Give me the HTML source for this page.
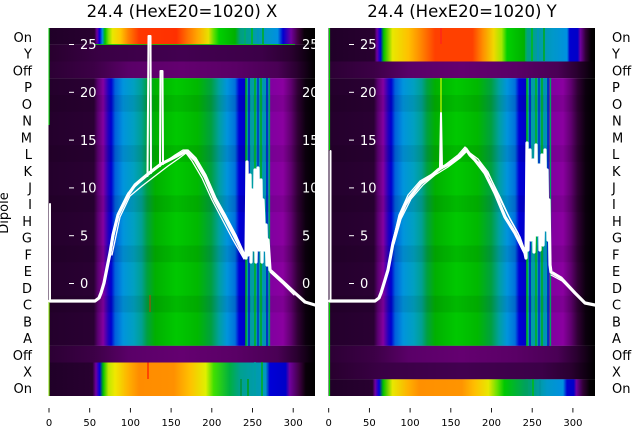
<!DOCTYPE html>
<html><head><meta charset="utf-8"><style>
html,body{margin:0;padding:0;background:#fff;}
svg{display:block;font-family:"DejaVu Sans","Liberation Sans",sans-serif;}
</style></head><body>
<svg width="640" height="440" viewBox="0 0 640 440" xmlns="http://www.w3.org/2000/svg">
<defs>
<linearGradient id="gMain" x1="0" y1="0" x2="1" y2="0">
<stop offset="0" stop-color="#24002c"/><stop offset="0.170" stop-color="#2a0033"/>
<stop offset="0.185" stop-color="#5a0070"/><stop offset="0.205" stop-color="#8400a0"/>
<stop offset="0.225" stop-color="#2000c0"/><stop offset="0.235" stop-color="#0000d0"/>
<stop offset="0.250" stop-color="#0060dd"/><stop offset="0.280" stop-color="#0094dd"/>
<stop offset="0.320" stop-color="#00a0c0"/><stop offset="0.350" stop-color="#00a090"/>
<stop offset="0.370" stop-color="#00a040"/><stop offset="0.400" stop-color="#00b000"/>
<stop offset="0.480" stop-color="#00c800"/><stop offset="0.560" stop-color="#00b800"/>
<stop offset="0.610" stop-color="#00a040"/><stop offset="0.640" stop-color="#00a0a0"/>
<stop offset="0.670" stop-color="#0094dd"/><stop offset="0.700" stop-color="#0070dd"/>
<stop offset="0.715" stop-color="#0000d8"/><stop offset="0.740" stop-color="#0000c8"/>
<stop offset="0.745" stop-color="#0099aa"/><stop offset="0.825" stop-color="#0099aa"/>
<stop offset="0.830" stop-color="#8000a0"/><stop offset="0.880" stop-color="#8a00a0"/>
<stop offset="0.910" stop-color="#600070"/><stop offset="0.935" stop-color="#300035"/>
<stop offset="0.965" stop-color="#0c000e"/><stop offset="1" stop-color="#000"/>
</linearGradient>
<linearGradient id="gLT" x1="0" y1="0" x2="1" y2="0">
<stop offset="0" stop-color="#200028"/><stop offset="0.172" stop-color="#280030"/>
<stop offset="0.182" stop-color="#7000a0"/><stop offset="0.192" stop-color="#0000dd"/>
<stop offset="0.202" stop-color="#0090dd"/><stop offset="0.212" stop-color="#00c000"/>
<stop offset="0.225" stop-color="#80e000"/><stop offset="0.240" stop-color="#e8e800"/>
<stop offset="0.270" stop-color="#ffc800"/><stop offset="0.300" stop-color="#ff8000"/>
<stop offset="0.340" stop-color="#ff3800"/><stop offset="0.480" stop-color="#ff3000"/>
<stop offset="0.520" stop-color="#ff7000"/><stop offset="0.560" stop-color="#ffa800"/>
<stop offset="0.600" stop-color="#e8e000"/><stop offset="0.620" stop-color="#60e000"/>
<stop offset="0.640" stop-color="#00d000"/><stop offset="0.700" stop-color="#00b000"/>
<stop offset="0.720" stop-color="#00a080"/><stop offset="0.820" stop-color="#0098c8"/>
<stop offset="0.860" stop-color="#0090e0"/><stop offset="0.880" stop-color="#0000d0"/>
<stop offset="0.910" stop-color="#7000a0"/><stop offset="0.935" stop-color="#400040"/>
<stop offset="0.960" stop-color="#0a000a"/><stop offset="1" stop-color="#000"/>
</linearGradient>
<linearGradient id="gLB" x1="0" y1="0" x2="1" y2="0">
<stop offset="0" stop-color="#200028"/><stop offset="0.165" stop-color="#280030"/>
<stop offset="0.178" stop-color="#7000a0"/><stop offset="0.192" stop-color="#0000dd"/>
<stop offset="0.205" stop-color="#00c000"/><stop offset="0.225" stop-color="#c0e800"/>
<stop offset="0.250" stop-color="#f0e800"/><stop offset="0.300" stop-color="#ffb000"/>
<stop offset="0.340" stop-color="#ff8c00"/><stop offset="0.470" stop-color="#ff9000"/>
<stop offset="0.530" stop-color="#ffc000"/><stop offset="0.590" stop-color="#e0f000"/>
<stop offset="0.620" stop-color="#40e000"/><stop offset="0.680" stop-color="#00b040"/>
<stop offset="0.720" stop-color="#00a090"/><stop offset="0.815" stop-color="#0098c0"/>
<stop offset="0.830" stop-color="#0000d8"/><stop offset="0.890" stop-color="#0000c8"/>
<stop offset="0.905" stop-color="#7000a0"/><stop offset="0.940" stop-color="#400045"/>
<stop offset="0.965" stop-color="#0a000a"/><stop offset="1" stop-color="#000"/>
</linearGradient>
<linearGradient id="gRT" x1="0" y1="0" x2="1" y2="0">
<stop offset="0" stop-color="#200028"/><stop offset="0.172" stop-color="#280030"/>
<stop offset="0.182" stop-color="#7000a0"/><stop offset="0.195" stop-color="#0000dd"/>
<stop offset="0.207" stop-color="#00c000"/><stop offset="0.240" stop-color="#e8e800"/>
<stop offset="0.300" stop-color="#ffc000"/><stop offset="0.340" stop-color="#ff9000"/>
<stop offset="0.400" stop-color="#ff4000"/><stop offset="0.540" stop-color="#ff4000"/>
<stop offset="0.580" stop-color="#ff9000"/><stop offset="0.620" stop-color="#f0d800"/>
<stop offset="0.650" stop-color="#a0e800"/><stop offset="0.670" stop-color="#00d000"/>
<stop offset="0.735" stop-color="#00b000"/><stop offset="0.745" stop-color="#00a080"/>
<stop offset="0.840" stop-color="#0098c8"/><stop offset="0.895" stop-color="#0090e0"/>
<stop offset="0.905" stop-color="#0000d0"/><stop offset="0.935" stop-color="#0000c8"/>
<stop offset="0.945" stop-color="#7000a0"/><stop offset="0.965" stop-color="#300035"/>
<stop offset="0.985" stop-color="#050005"/><stop offset="1" stop-color="#000"/>
</linearGradient>
<linearGradient id="gRB" x1="0" y1="0" x2="1" y2="0">
<stop offset="0" stop-color="#200028"/><stop offset="0.165" stop-color="#280030"/>
<stop offset="0.175" stop-color="#7000a0"/><stop offset="0.190" stop-color="#0000dd"/>
<stop offset="0.205" stop-color="#00c000"/><stop offset="0.240" stop-color="#e8e800"/>
<stop offset="0.300" stop-color="#ffb000"/><stop offset="0.340" stop-color="#ff9000"/>
<stop offset="0.500" stop-color="#ff9400"/><stop offset="0.550" stop-color="#ffc000"/>
<stop offset="0.600" stop-color="#e8e800"/><stop offset="0.635" stop-color="#60e000"/>
<stop offset="0.660" stop-color="#00c800"/><stop offset="0.740" stop-color="#00a060"/>
<stop offset="0.820" stop-color="#0098c8"/><stop offset="0.880" stop-color="#0090e0"/>
<stop offset="0.895" stop-color="#0000d0"/><stop offset="0.920" stop-color="#0000c8"/>
<stop offset="0.930" stop-color="#7000a0"/><stop offset="0.955" stop-color="#300035"/>
<stop offset="0.980" stop-color="#050005"/><stop offset="1" stop-color="#000"/>
</linearGradient>
<linearGradient id="gOff" x1="0" y1="0" x2="1" y2="0">
<stop offset="0" stop-color="#2c0034"/><stop offset="0.17" stop-color="#3c0046"/>
<stop offset="0.30" stop-color="#5a0068"/><stop offset="0.50" stop-color="#640070"/>
<stop offset="0.70" stop-color="#5a0066"/><stop offset="0.86" stop-color="#4a0055"/>
<stop offset="0.93" stop-color="#2a0030"/><stop offset="1" stop-color="#000"/>
</linearGradient>
<linearGradient id="gDk" x1="0" y1="0" x2="1" y2="0">
<stop offset="0" stop-color="#28002e"/><stop offset="0.2" stop-color="#3a0045"/>
<stop offset="0.5" stop-color="#420050"/><stop offset="0.8" stop-color="#3c0048"/>
<stop offset="0.91" stop-color="#2a0030"/><stop offset="1" stop-color="#000"/>
</linearGradient>
<clipPath id="cL"><rect x="48.5" y="28" width="266.5" height="368"/></clipPath>
<clipPath id="cR"><rect x="328.5" y="28" width="266.5" height="368"/></clipPath>
</defs>

<text x="182" y="17" font-size="16.5" text-anchor="middle" fill="#000">24.4 (HexE20=1020) X</text>
<text x="462" y="17" font-size="16.5" text-anchor="middle" fill="#000">24.4 (HexE20=1020) Y</text>

<!-- LEFT PANEL -->
<g clip-path="url(#cL)">
<rect x="48.5" y="28" width="266.5" height="16.8" fill="url(#gLT)"/>
<rect x="48.5" y="44.7" width="266.5" height="16.9" fill="url(#gDk)"/>
<rect x="48.5" y="61.5" width="266.5" height="16.8" fill="url(#gOff)"/>
<rect x="48.5" y="78.2" width="266.5" height="267.7" fill="url(#gMain)"/>
<rect x="48.5" y="345.8" width="266.5" height="16.8" fill="url(#gOff)"/>
<rect x="48.5" y="362.5" width="266.5" height="33.5" fill="url(#gLB)"/>
<g fill="#000" opacity="0.07">
<rect x="48.5" y="95" width="266.5" height="16.7"/><rect x="48.5" y="145.2" width="266.5" height="16.7"/>
<rect x="48.5" y="195.4" width="266.5" height="16.7"/><rect x="48.5" y="245.5" width="266.5" height="16.7"/>
<rect x="48.5" y="295.7" width="266.5" height="16.7"/>
</g>
<g stroke-width="1.3">
<line x1="246" y1="78" x2="246" y2="346" stroke="#00c000"/><line x1="249" y1="78" x2="249" y2="346" stroke="#0000d0"/>
<line x1="252" y1="78" x2="252" y2="346" stroke="#00a0a0"/><line x1="255" y1="78" x2="255" y2="346" stroke="#00b800"/>
<line x1="258" y1="78" x2="258" y2="346" stroke="#0020d0"/><line x1="261" y1="78" x2="261" y2="346" stroke="#00b000"/>
<line x1="264" y1="78" x2="264" y2="346" stroke="#0090c0"/><line x1="267" y1="78" x2="267" y2="346" stroke="#0000d0"/>
<line x1="269.5" y1="78" x2="269.5" y2="346" stroke="#00a060"/>
<line x1="245" y1="28" x2="245" y2="44" stroke="#00b060"/><line x1="252" y1="28" x2="252" y2="44" stroke="#00c000"/>
<line x1="258" y1="28" x2="258" y2="44" stroke="#0090c0"/><line x1="263" y1="28" x2="263" y2="44" stroke="#00b000"/>
<line x1="241" y1="379" x2="241" y2="396" stroke="#009030"/><line x1="248" y1="379" x2="248" y2="396" stroke="#00a000"/>
<line x1="255" y1="362" x2="255" y2="396" stroke="#00a0a0"/><line x1="262" y1="362" x2="262" y2="396" stroke="#00b000"/>
</g>
<line x1="148" y1="362.5" x2="148" y2="379" stroke="#ff0000" stroke-width="1"/>
<line x1="150" y1="295" x2="150" y2="312" stroke="#c04000" stroke-width="1"/>
<line x1="49" y1="28" x2="49" y2="125" stroke="#00d000" stroke-width="1.2"/>
<line x1="49" y1="302" x2="49" y2="396" stroke="#80e000" stroke-width="1.2"/>
<line x1="95" y1="44.5" x2="295" y2="44.5" stroke="#00d000" stroke-width="0.8"/>

<g fill="#fff" font-size="13">
<g stroke="#fff" stroke-width="1">
<line x1="69" y1="44.5" x2="74" y2="44.5"/><line x1="69" y1="92.3" x2="74" y2="92.3"/>
<line x1="69" y1="140.1" x2="74" y2="140.1"/><line x1="69" y1="187.9" x2="74" y2="187.9"/>
<line x1="69" y1="235.7" x2="74" y2="235.7"/><line x1="69" y1="283.5" x2="74" y2="283.5"/>
</g>
<text x="80" y="49.2">25</text><text x="80" y="97">20</text><text x="80" y="144.8">15</text>
<text x="80" y="192.6">10</text><text x="80" y="240.4">5</text><text x="80" y="288.2">0</text>
<text x="302" y="49.2">25</text><text x="302" y="97">20</text><text x="302" y="144.8">15</text>
<text x="302" y="192.6">10</text><text x="302" y="240.4">5</text><text x="302" y="288.2">0</text>
</g>

<g fill="none" stroke="#fff" stroke-linejoin="round" stroke-linecap="round">
<line x1="50" y1="204" x2="50" y2="301" stroke-width="2"/>
<polyline stroke-width="3.2" points="50,301 95,301 99,298 101,293 104,283 106,273 110,253 113,235 118,215 123,205 128,195 135,185 148,174 161,164 175,157 186,151 195,160 205,177 215,200 225,218 235,237 245,257 246,258 247,162 248,255 250,175 251,262 252,190 254,250 255,170 256,262 258,168 259,250 261,180 262,262 263,200 265,250 266,225 267,265 268,240 270,270 281,280 295,293 305,302 315,305"/>
<polyline stroke-width="1.3" points="111,251 118,213 128,193 140,182 152,172 165,162 175,155 183,150 188,150 196,158 206,175 216,198 226,216 236,235 245,255"/>
<polyline stroke-width="1.3" points="112,255 120,217 130,196 142,186 155,176 168,166 178,159 186,153 192,161 202,178 212,200 222,219 232,238 244,259"/>
<polyline stroke-width="1.2" points="270,272 282,283 294,295"/>
<polyline stroke-width="2" points="147.5,176 148.5,36 150.5,36 151,173"/>
<polyline stroke-width="2" points="160,166 160.5,71 162.5,71 163,164"/>
</g>
</g>

<!-- RIGHT PANEL -->
<g clip-path="url(#cR)">
<rect x="328.5" y="28" width="266.5" height="33.6" fill="url(#gRT)"/>
<rect x="328.5" y="61.5" width="266.5" height="16.8" fill="url(#gOff)"/>
<rect x="328.5" y="78.2" width="266.5" height="267.7" fill="url(#gMain)"/>
<rect x="328.5" y="345.8" width="266.5" height="16.8" fill="url(#gOff)"/>
<rect x="328.5" y="362.5" width="266.5" height="16.9" fill="url(#gDk)"/>
<rect x="328.5" y="379.3" width="266.5" height="16.7" fill="url(#gRB)"/>
<g fill="#000" opacity="0.07">
<rect x="328.5" y="95" width="266.5" height="16.7"/><rect x="328.5" y="145.2" width="266.5" height="16.7"/>
<rect x="328.5" y="195.4" width="266.5" height="16.7"/><rect x="328.5" y="245.5" width="266.5" height="16.7"/>
<rect x="328.5" y="295.7" width="266.5" height="16.7"/>
</g>
<g stroke-width="1.3">
<line x1="527" y1="78" x2="527" y2="346" stroke="#00c000"/><line x1="530" y1="78" x2="530" y2="346" stroke="#0000d0"/>
<line x1="533" y1="78" x2="533" y2="346" stroke="#00a0a0"/><line x1="536" y1="78" x2="536" y2="346" stroke="#00b800"/>
<line x1="539" y1="78" x2="539" y2="346" stroke="#0020d0"/><line x1="542" y1="78" x2="542" y2="346" stroke="#00b000"/>
<line x1="545" y1="78" x2="545" y2="346" stroke="#0090c0"/><line x1="548" y1="78" x2="548" y2="346" stroke="#0000d0"/>
<line x1="550.5" y1="78" x2="550.5" y2="346" stroke="#00a060"/>
<line x1="526" y1="28" x2="526" y2="61" stroke="#00b060"/><line x1="532" y1="28" x2="532" y2="61" stroke="#00c000"/>
<line x1="538" y1="28" x2="538" y2="61" stroke="#0090c0"/><line x1="544" y1="28" x2="544" y2="61" stroke="#00b000"/>
<line x1="527" y1="379" x2="527" y2="396" stroke="#00a060"/><line x1="533" y1="379" x2="533" y2="396" stroke="#00c000"/>
<line x1="540" y1="379" x2="540" y2="396" stroke="#0090a0"/>
</g>
<line x1="441" y1="28" x2="441" y2="44" stroke="#ff2020" stroke-width="1.2"/>
<line x1="441" y1="78" x2="441" y2="113" stroke="#d0ff00" stroke-width="1.2"/>
<line x1="329.5" y1="28" x2="329.5" y2="150" stroke="#00d000" stroke-width="1.2"/>
<line x1="329.5" y1="300" x2="329.5" y2="396" stroke="#00d000" stroke-width="1.2"/>

<g fill="#fff" font-size="13">
<g stroke="#fff" stroke-width="1">
<line x1="349" y1="44.5" x2="354" y2="44.5"/><line x1="349" y1="92.3" x2="354" y2="92.3"/>
<line x1="349" y1="140.1" x2="354" y2="140.1"/><line x1="349" y1="187.9" x2="354" y2="187.9"/>
<line x1="349" y1="235.7" x2="354" y2="235.7"/><line x1="349" y1="283.5" x2="354" y2="283.5"/>
</g>
<text x="360" y="49.2">25</text><text x="360" y="97">20</text><text x="360" y="144.8">15</text>
<text x="360" y="192.6">10</text><text x="360" y="240.4">5</text><text x="360" y="288.2">0</text>
</g>

<g fill="none" stroke="#fff" stroke-linejoin="round" stroke-linecap="round">
<line x1="330.5" y1="151" x2="330.5" y2="301" stroke-width="2"/>
<polyline stroke-width="3.2" points="330,301 375,301 379,298 381,293 385,280 388,270 393,243 400,217 405,205 410,197 421,183 430,177 438,170 441,168 451,163 460,156 466,149 470,155 475,160 485,173 495,193 505,217 515,233 525,253 526,258 527,143 528,250 530,150 531,240 533,160 534,252 536,145 537,235 539,165 540,250 542,155 543,245 545,150 546,230 547,170 548,240 549,200 550,265 551,272 561,278 575,293 585,303 595,305"/>
<polyline stroke-width="1.3" points="392,245 399,215 408,195 420,181 432,174 445,165 458,155 465,147 470,153 478,159 488,172 498,195 508,215 518,233 525,251"/>
<polyline stroke-width="1.3" points="394,244 401,219 411,199 423,185 435,175 448,167 460,158 467,151 472,158 480,163 490,177 500,197 510,219 520,237 526,254"/>
<polyline stroke-width="1.2" points="551,275 562,281 576,295"/>
<polyline stroke-width="2" points="440,168 441,113 442,168"/>
</g>
</g>

<g font-size="13" fill="#000">
<g text-anchor="end">
<text x="32" y="42">On</text><text x="32" y="58.7">Y</text><text x="32" y="75.4">Off</text>
<text x="32" y="92.1">P</text><text x="32" y="108.9">O</text><text x="32" y="125.6">N</text>
<text x="32" y="142.3">M</text><text x="32" y="159.1">L</text><text x="32" y="175.8">K</text>
<text x="32" y="192.5">J</text><text x="32" y="209.2">I</text><text x="32" y="226">H</text>
<text x="32" y="242.7">G</text><text x="32" y="259.4">F</text><text x="32" y="276.1">E</text>
<text x="32" y="292.9">D</text><text x="32" y="309.6">C</text><text x="32" y="326.3">B</text>
<text x="32" y="343.1">A</text><text x="32" y="359.8">Off</text><text x="32" y="376.5">X</text>
<text x="32" y="393.2">On</text>
</g>
<g text-anchor="start">
<text x="612" y="42">On</text><text x="612" y="58.7">Y</text><text x="612" y="75.4">Off</text>
<text x="612" y="92.1">P</text><text x="612" y="108.9">O</text><text x="612" y="125.6">N</text>
<text x="612" y="142.3">M</text><text x="612" y="159.1">L</text><text x="612" y="175.8">K</text>
<text x="612" y="192.5">J</text><text x="612" y="209.2">I</text><text x="612" y="226">H</text>
<text x="612" y="242.7">G</text><text x="612" y="259.4">F</text><text x="612" y="276.1">E</text>
<text x="612" y="292.9">D</text><text x="612" y="309.6">C</text><text x="612" y="326.3">B</text>
<text x="612" y="343.1">A</text><text x="612" y="359.8">Off</text><text x="612" y="376.5">X</text>
<text x="612" y="393.2">On</text>
</g>
<text transform="translate(8,213) rotate(-90)" text-anchor="middle">Dipole</text>
</g>

<g stroke="#000" stroke-width="0.9">
<line x1="49" y1="408" x2="49" y2="412.5"/><line x1="89.7" y1="408" x2="89.7" y2="412.5"/>
<line x1="130.4" y1="408" x2="130.4" y2="412.5"/><line x1="171.1" y1="408" x2="171.1" y2="412.5"/>
<line x1="211.8" y1="408" x2="211.8" y2="412.5"/><line x1="252.5" y1="408" x2="252.5" y2="412.5"/>
<line x1="293.2" y1="408" x2="293.2" y2="412.5"/>
<line x1="328.7" y1="408" x2="328.7" y2="412.5"/><line x1="369.4" y1="408" x2="369.4" y2="412.5"/>
<line x1="410.1" y1="408" x2="410.1" y2="412.5"/><line x1="450.8" y1="408" x2="450.8" y2="412.5"/>
<line x1="491.5" y1="408" x2="491.5" y2="412.5"/><line x1="532.2" y1="408" x2="532.2" y2="412.5"/>
<line x1="572.9" y1="408" x2="572.9" y2="412.5"/>
</g>
<g font-size="10" fill="#000" text-anchor="middle">
<text x="49" y="426">0</text><text x="89.7" y="426">50</text><text x="130.4" y="426">100</text>
<text x="171.1" y="426">150</text><text x="211.8" y="426">200</text><text x="252.5" y="426">250</text>
<text x="293.2" y="426">300</text>
<text x="328.7" y="426">0</text><text x="369.4" y="426">50</text><text x="410.1" y="426">100</text>
<text x="450.8" y="426">150</text><text x="491.5" y="426">200</text><text x="532.2" y="426">250</text>
<text x="572.9" y="426">300</text>
</g>
</svg>
</body></html>
